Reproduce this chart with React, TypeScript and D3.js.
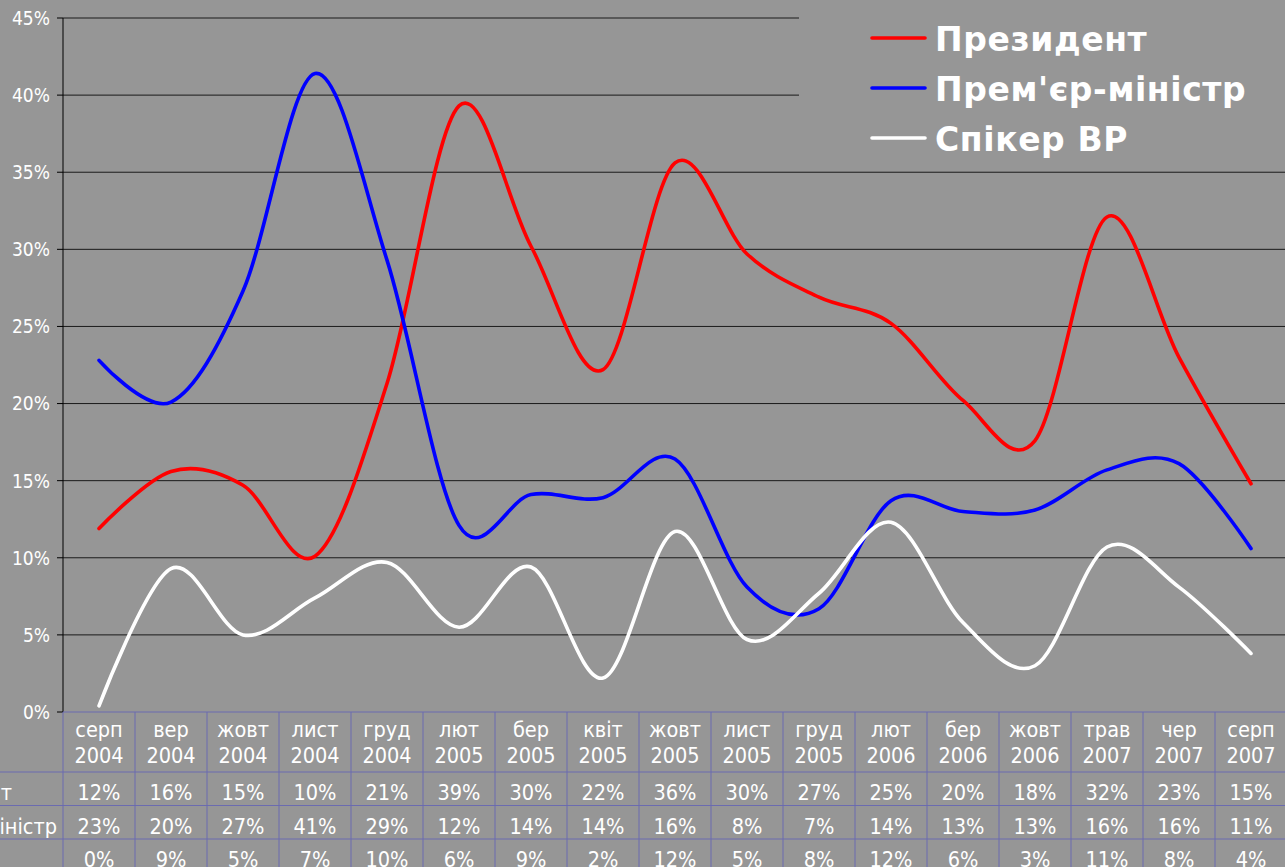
import React from 'react';
import * as d3 from 'd3';

const months = ['серп', 'вер', 'жовт', 'лист', 'груд', 'лют', 'бер', 'квіт', 'жовт', 'лист', 'груд', 'лют', 'бер', 'жовт', 'трав', 'чер', 'серп'];
const years = ['2004', '2004', '2004', '2004', '2004', '2005', '2005', '2005', '2005', '2005', '2005', '2006', '2006', '2006', '2007', '2007', '2007'];

const president = [11.9, 15.6, 14.7, 10.1, 21.3, 39.3, 30.2, 22.2, 35.6, 29.7, 26.9, 25.2, 20.2, 17.6, 32.1, 23.0, 14.8];
const premier = [22.8, 20.1, 27.3, 41.4, 29.3, 12.1, 14.1, 13.9, 16.4, 8.1, 6.7, 13.7, 13.0, 13.1, 15.7, 16.1, 10.6];
const speaker = [0.4, 9.3, 5.0, 7.4, 9.7, 5.5, 9.4, 2.2, 11.7, 4.7, 7.7, 12.3, 5.8, 3.0, 10.7, 8.1, 3.8];

const seriesNames = ['Президент', "Прем'єр-міністр", 'Спікер ВР'];
const seriesColors = ['#ff0000', '#0000ff', '#ffffff'];
const seriesData = [president, premier, speaker];

const yTicks = [0, 5, 10, 15, 20, 25, 30, 35, 40, 45];

const BG = '#969696';
const TABLE_LINE = '#6b6bb0';
const FONT = '"DejaVu Sans Condensed", "DejaVu Sans", sans-serif';

export default function App() {
  const W = 1285;
  const H = 867;
  const plotLeft = 63;
  const colW = 72;
  const n = months.length;
  const x = d3.scaleBand<number>().domain(d3.range(n)).range([plotLeft, plotLeft + n * colW]).padding(0);
  const y = d3.scaleLinear().domain([0, 45]).range([712, 18]);
  const cx = (i: number) => (x(i) as number) + x.bandwidth() / 2;

  const line = d3
    .line<number>()
    .x((_, i) => cx(i))
    .y((d) => y(d))
    .curve(d3.curveCardinal.tension(0));

  const plotRight = plotLeft + n * colW;
  const rowLines = [772, 805.5, 839, 872.5];
  const rowLabelEnds = [12, 57, -4];

  return (
    <svg
      width={W}
      height={H}
      style={{ position: 'absolute', left: 0, top: 0, display: 'block', background: BG }}
      fontFamily={FONT}
    >
      <rect x={0} y={0} width={W} height={H} fill={BG} />

      {/* gridlines */}
      {yTicks.filter((t) => t > 0).map((t) => (
        <line key={'g' + t} x1={plotLeft} x2={plotRight} y1={y(t)} y2={y(t)} stroke="#1a1a1a" strokeWidth={1} />
      ))}

      {/* legend box (covers gridlines) */}
      <rect x={799} y={0} width={W - 799} height={168} fill={BG} />

      {/* y axis */}
      <line x1={plotLeft} x2={plotLeft} y1={y(45)} y2={y(0)} stroke="#000" strokeWidth={1} />
      {yTicks.map((t) => (
        <g key={'t' + t}>
          <line x1={57} x2={plotLeft} y1={y(t)} y2={y(t)} stroke="#000" strokeWidth={1} />
          <text x={50} y={y(t)} dy="0.36em" textAnchor="end" fill="#fff" fontSize={19}>
            {t + '%'}
          </text>
        </g>
      ))}

      {/* series */}
      {seriesData.map((s, k) => (
        <path key={'s' + k} d={line(s) || ''} fill="none" stroke={seriesColors[k]} strokeWidth={3.6} strokeLinejoin="round" strokeLinecap="round" />
      ))}

      {/* legend */}
      {seriesNames.map((name, k) => {
        const ly = 38 + k * 50;
        return (
          <g key={'l' + k}>
            <line x1={872} x2={925} y1={ly} y2={ly} stroke={seriesColors[k]} strokeWidth={3.6} strokeLinecap="round" />
            <text x={935} y={ly + 13} fill="#fff" fontSize={33} fontWeight="bold" letterSpacing={0.6} fontFamily='"DejaVu Sans", sans-serif'>
              {name}
            </text>
          </g>
        );
      })}

      {/* data table */}
      <line x1={plotLeft} x2={W} y1={712} y2={712} stroke={TABLE_LINE} strokeWidth={1} />
      {rowLines.map((ry, i) => (
        <line key={'r' + i} x1={0} x2={W} y1={ry} y2={ry} stroke={TABLE_LINE} strokeWidth={1} />
      ))}
      {d3.range(n + 1).map((i) => (
        <line key={'v' + i} x1={plotLeft + i * colW} x2={plotLeft + i * colW} y1={712} y2={H} stroke={TABLE_LINE} strokeWidth={1} />
      ))}
      {months.map((m, i) => (
        <g key={'c' + i}>
          <text x={cx(i)} y={737} textAnchor="middle" fill="#fff" fontSize={21.5}>{m}</text>
          <text x={cx(i)} y={763} textAnchor="middle" fill="#fff" fontSize={21.5}>{years[i]}</text>
        </g>
      ))}
      {seriesData.map((s, k) => (
        <g key={'row' + k}>
          <text x={rowLabelEnds[k]} y={rowLines[k] + 28} textAnchor="end" fill="#fff" fontSize={21.5}>
            {seriesNames[k]}
          </text>
          {s.map((v, i) => (
            <text key={i} x={cx(i)} y={rowLines[k] + 28} textAnchor="middle" fill="#fff" fontSize={21.5}>
              {Math.round(v) + '%'}
            </text>
          ))}
        </g>
      ))}
    </svg>
  );
}
